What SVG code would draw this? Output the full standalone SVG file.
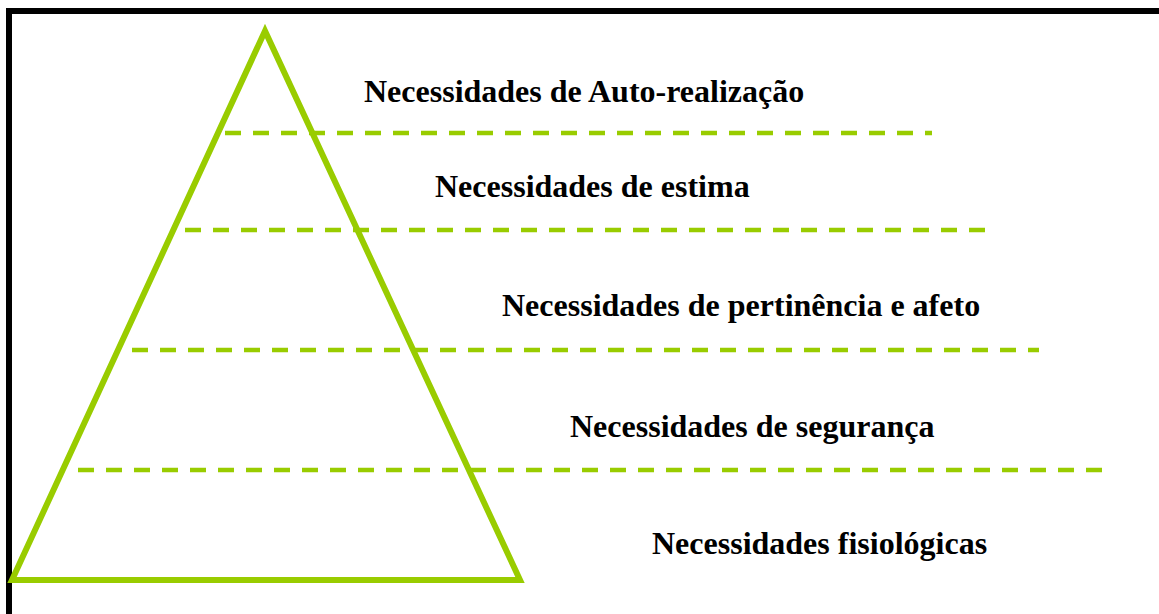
<svg xmlns="http://www.w3.org/2000/svg" width="1159" height="614" viewBox="0 0 1159 614">
<style>
.lbl{font-family:"Liberation Serif","Times New Roman",serif;font-weight:bold;font-size:32px;fill:#000}
.dash{stroke:#99CC00;stroke-width:4.5;stroke-dasharray:16 12;fill:none}
</style>
<rect width="1159" height="614" fill="#fff"/>
<g id="border" fill="none" stroke="#000" stroke-width="6">
<polyline points="9,614 9,11 1159,11"/>
</g>
<g id="pyramid">
<polygon points="265,31 12,580 520,580" fill="none" stroke="#99CC00" stroke-width="6"/>
</g>
<g id="connectors">
<line class="dash" x1="225" y1="133" x2="932" y2="133"/>
<line class="dash" x1="185" y1="230" x2="986" y2="230"/>
<line class="dash" x1="132" y1="350" x2="1039" y2="350"/>
<line class="dash" x1="78" y1="470" x2="1103" y2="470"/>
</g>
<g id="level5"><text class="lbl" x="364" y="102">Necessidades de Auto-realização</text></g>
<g id="level4"><text class="lbl" x="435" y="197">Necessidades de estima</text></g>
<g id="level3"><text class="lbl" x="502" y="316">Necessidades de pertinência e afeto</text></g>
<g id="level2"><text class="lbl" x="570" y="437">Necessidades de segurança</text></g>
<g id="level1"><text class="lbl" x="652" y="554">Necessidades fisiológicas</text></g>
</svg>
